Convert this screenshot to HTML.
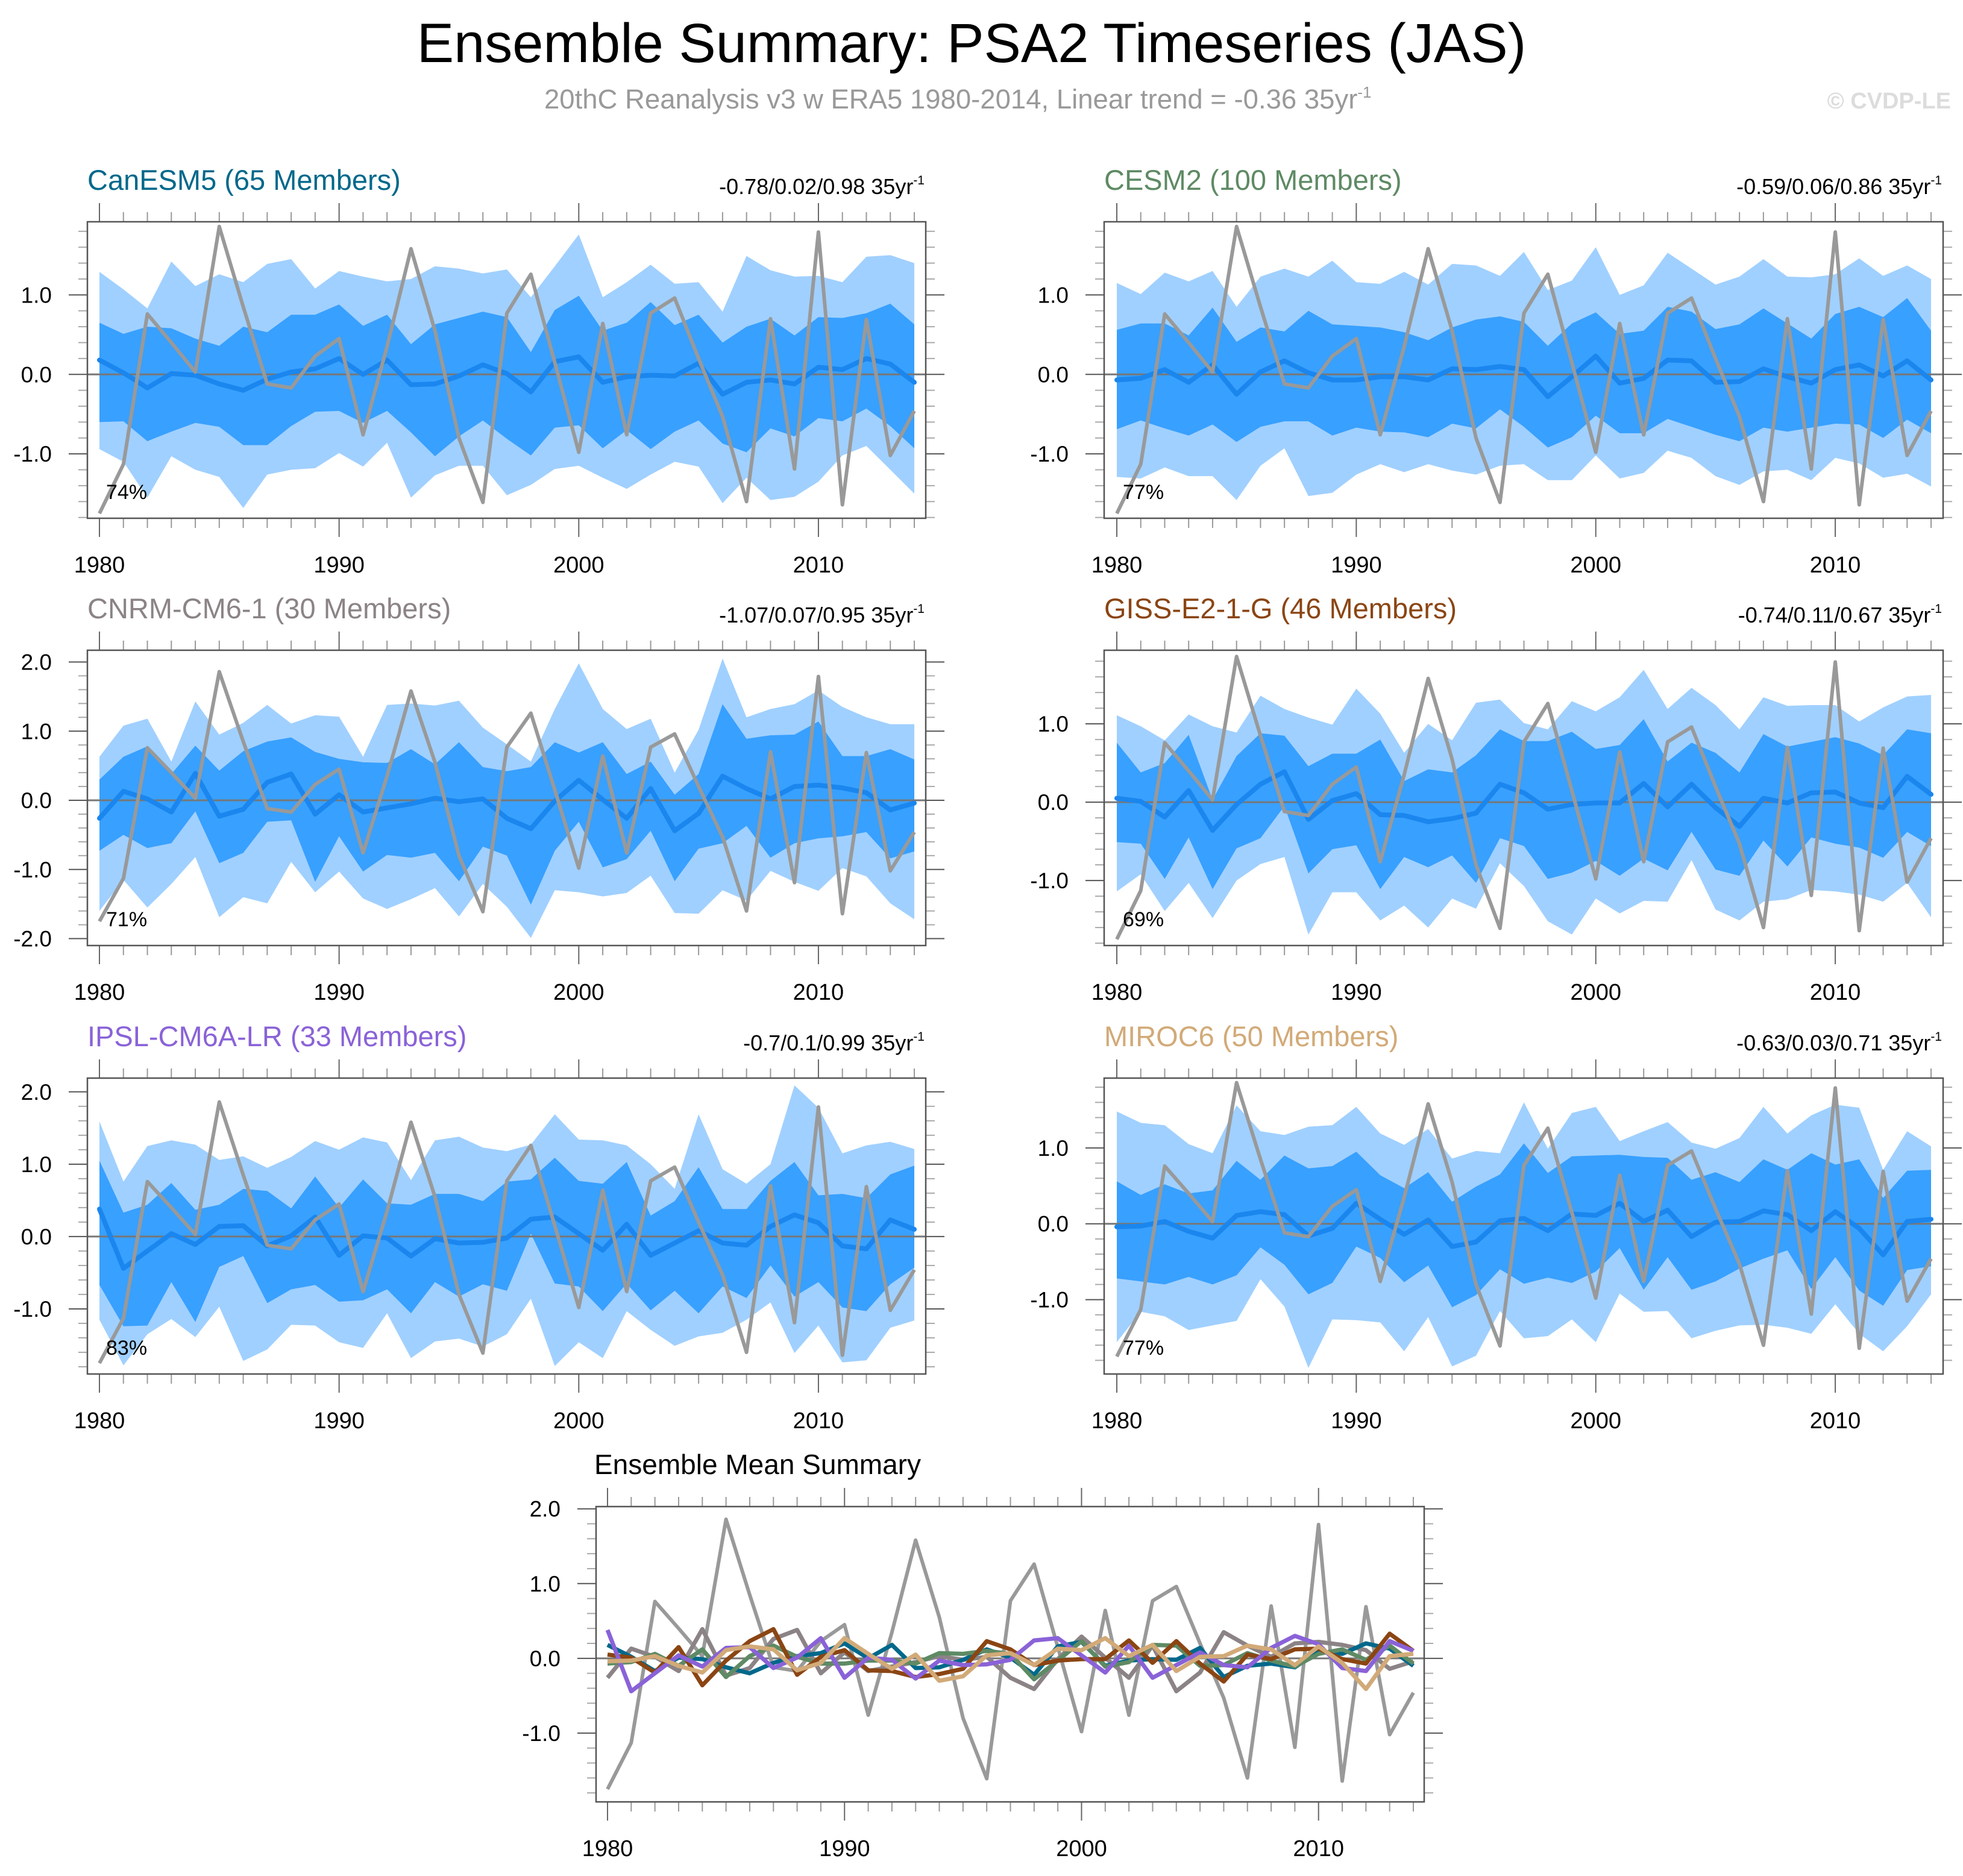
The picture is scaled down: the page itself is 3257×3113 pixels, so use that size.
<!DOCTYPE html>
<html><head><meta charset="utf-8">
<style>
html,body{margin:0;padding:0;background:#fff;}
svg{display:block;font-family:"Liberation Sans",Arial,sans-serif;}
</style></head>
<body>
<svg id="fig" xmlns="http://www.w3.org/2000/svg" width="3257" height="3113" viewBox="0 0 3257 3113">
<rect x="0" y="0" width="3257" height="3113" fill="#fff"/>
<text x="1612" y="103" font-size="92" text-anchor="middle" fill="#000">Ensemble Summary: PSA2 Timeseries (JAS)</text>
<text x="903" y="180" font-size="45.5" fill="#999">20thC Reanalysis v3 w ERA5 1980-2014, Linear trend = -0.36 35yr<tspan dy="-18" font-size="26">-1</tspan></text>
<text x="3237" y="180" font-size="38" font-weight="bold" text-anchor="end" fill="#dcdcdc">© CVDP-LE</text>
<g id="panels"></g>
</svg>
<script>
const years = [1980,1981,1982,1983,1984,1985,1986,1987,1988,1989,1990,1991,1992,1993,1994,1995,1996,1997,1998,1999,2000,2001,2002,2003,2004,2005,2006,2007,2008,2009,2010,2011,2012,2013,2014];
const obs = [-1.75,-1.13,0.76,0.4,0.03,1.86,0.85,-0.12,-0.17,0.23,0.45,-0.76,0.35,1.58,0.55,-0.8,-1.61,0.77,1.26,0.15,-0.98,0.64,-0.76,0.77,0.96,0.2,-0.53,-1.6,0.7,-1.19,1.79,-1.64,0.69,-1.02,-0.46];

const canMean = [0.18,0.02,-0.17,0.01,-0.01,-0.12,-0.2,-0.06,0.03,0.07,0.2,0,0.18,-0.13,-0.12,-0.02,0.12,0.01,-0.22,0.16,0.22,-0.1,-0.03,-0.01,-0.02,0.14,-0.25,-0.1,-0.07,-0.12,0.09,0.06,0.2,0.13,-0.1];
const canInHi = [0.65,0.51,0.6,0.58,0.45,0.36,0.6,0.53,0.75,0.75,0.88,0.61,0.75,0.38,0.63,0.71,0.79,0.72,0.28,0.81,0.99,0.55,0.65,0.91,0.62,0.75,0.4,0.6,0.7,0.49,0.72,0.71,0.77,0.89,0.63];
const canInLo = [-0.6,-0.59,-0.84,-0.72,-0.61,-0.66,-0.89,-0.89,-0.65,-0.47,-0.46,-0.61,-0.46,-0.73,-1.03,-0.78,-0.58,-0.81,-1.02,-0.67,-0.64,-0.93,-0.7,-0.94,-0.72,-0.58,-0.87,-0.98,-0.68,-0.78,-0.55,-0.59,-0.43,-0.65,-0.93];
const canOutHi = [1.29,1.07,0.83,1.42,1.11,1.26,1.16,1.39,1.45,1.08,1.3,1.23,1.17,1.2,1.36,1.33,1.27,1.32,0.97,1.36,1.76,0.97,1.16,1.38,1.14,1.16,0.79,1.49,1.31,1.23,1.24,1.16,1.48,1.5,1.4];
const canOutLo = [-0.94,-1.1,-1.55,-1.03,-1.2,-1.29,-1.68,-1.26,-1.2,-1.18,-0.99,-1.16,-0.86,-1.55,-1.27,-1.15,-1.15,-1.52,-1.39,-1.19,-1.15,-1.3,-1.44,-1.26,-1.1,-1.16,-1.62,-1.3,-1.58,-1.54,-1.35,-1.02,-0.9,-1.2,-1.5];

const cesMean = [-0.07,-0.05,0.06,-0.10,0.12,-0.25,0.03,0.17,0.02,-0.07,-0.07,-0.03,-0.03,-0.07,0.07,0.06,0.10,0.06,-0.28,-0.03,0.23,-0.11,-0.05,0.18,0.17,-0.1,-0.09,0.07,-0.03,-0.11,0.06,0.12,-0.02,0.17,-0.07];
const cesInHi = [0.56,0.64,0.64,0.49,0.84,0.41,0.59,0.54,0.80,0.63,0.61,0.59,0.53,0.43,0.59,0.69,0.73,0.66,0.36,0.64,0.78,0.51,0.55,0.85,0.79,0.57,0.63,0.83,0.64,0.45,0.76,0.85,0.72,0.96,0.55];
const cesInLo = [-0.69,-0.58,-0.68,-0.77,-0.63,-0.85,-0.66,-0.59,-0.59,-0.77,-0.67,-0.72,-0.73,-0.79,-0.62,-0.68,-0.44,-0.66,-0.92,-0.79,-0.52,-0.74,-0.74,-0.56,-0.66,-0.76,-0.84,-0.67,-0.72,-0.67,-0.62,-0.63,-0.80,-0.57,-0.74];
const cesOutHi = [1.15,1.01,1.28,1.17,1.30,0.85,1.23,1.33,1.23,1.43,1.16,1.14,1.29,1.13,1.39,1.37,1.24,1.54,1.06,1.18,1.60,1.00,1.12,1.53,1.33,1.13,1.23,1.45,1.23,1.22,1.26,1.46,1.24,1.37,1.20];
const cesOutLo = [-1.29,-1.31,-1.17,-1.28,-1.28,-1.58,-1.15,-0.93,-1.53,-1.49,-1.26,-1.13,-1.23,-1.13,-1.21,-1.26,-1.15,-1.13,-1.33,-1.33,-1.02,-1.31,-1.24,-0.96,-1.05,-1.28,-1.39,-1.22,-1.20,-1.33,-1.05,-1.12,-1.30,-1.25,-1.41];

const cnrmMean = [-0.26,0.13,0.02,-0.17,0.39,-0.23,-0.13,0.26,0.38,-0.20,0.08,-0.17,-0.11,-0.05,0.03,-0.02,0.02,-0.26,-0.41,-0.01,0.29,0.01,-0.26,0.17,-0.44,-0.19,0.35,0.17,0.02,0.20,0.22,0.18,0.11,-0.14,-0.04];
const cnrmInHi = [0.30,0.63,0.78,0.38,0.79,0.43,0.71,0.85,0.91,0.70,0.60,0.55,0.54,0.74,0.52,0.84,0.48,0.42,0.48,0.84,0.69,0.84,0.38,0.56,0.08,0.38,1.39,0.89,0.94,0.95,1.14,0.64,0.64,0.74,0.59];
const cnrmInLo = [-0.73,-0.50,-0.69,-0.62,-0.16,-0.91,-0.76,-0.31,-0.29,-1.18,-0.52,-1.03,-0.79,-0.83,-0.76,-1.17,-0.67,-0.80,-1.51,-0.73,-0.31,-0.97,-0.85,-0.44,-1.17,-0.70,-0.62,-0.37,-0.83,-0.62,-0.55,-0.52,-0.46,-0.84,-0.74];
const cnrmOutHi = [0.63,1.08,1.18,0.56,1.43,0.95,1.12,1.38,1.11,1.23,1.21,0.63,1.38,1.40,1.37,1.44,1.05,0.81,0.56,1.32,1.98,1.32,1.03,1.18,0.40,1.02,2.05,1.20,1.32,1.39,1.59,1.35,1.20,1.10,1.10];
const cnrmOutLo = [-1.60,-1.15,-1.55,-1.21,-0.82,-1.69,-1.40,-1.49,-0.89,-1.33,-1.03,-1.42,-1.57,-1.43,-1.27,-1.68,-1.21,-1.54,-1.99,-1.30,-1.33,-1.39,-1.34,-1.09,-1.63,-1.64,-1.30,-1.45,-1.02,-1.18,-1.31,-0.98,-1.10,-1.49,-1.72];

const gissMean = [0.05,0.01,-0.19,0.15,-0.36,-0.03,0.23,0.39,-0.22,0.02,0.11,-0.16,-0.17,-0.25,-0.21,-0.14,0.23,0.12,-0.09,-0.03,-0.01,-0.01,0.24,-0.06,0.23,-0.07,-0.31,0.05,-0.01,0.12,0.13,-0.01,-0.07,0.33,0.10];
const gissInHi = [0.76,0.38,0.50,0.86,0.03,0.59,0.88,0.85,0.46,0.62,0.62,0.80,0.27,0.42,0.38,0.60,0.93,0.78,0.78,0.90,0.68,0.73,1.06,0.52,0.76,0.63,0.38,0.87,0.71,0.77,0.83,0.75,0.60,0.93,0.88];
const gissInLo = [-0.51,-0.53,-0.98,-0.45,-1.11,-0.59,-0.46,-0.05,-0.91,-0.60,-0.55,-1.11,-0.70,-0.83,-0.68,-1.03,-0.46,-0.56,-0.98,-0.90,-0.75,-0.94,-0.72,-0.87,-0.38,-0.86,-0.94,-0.49,-0.82,-0.45,-0.53,-0.58,-0.71,-0.38,-0.56];
const gissOutHi = [1.11,0.97,0.79,1.12,0.97,0.89,1.36,1.19,1.08,0.99,1.45,1.13,0.63,1.00,0.79,1.27,1.31,1.01,0.93,1.29,1.16,1.34,1.69,1.19,1.46,1.24,0.93,1.34,1.23,1.24,1.24,1.03,1.21,1.35,1.37];
const gissOutLo = [-1.14,-0.92,-1.39,-1.03,-1.48,-1.00,-0.79,-0.70,-1.69,-1.15,-1.15,-1.51,-1.32,-1.60,-1.23,-1.36,-0.78,-1.07,-1.52,-1.69,-1.23,-1.42,-1.26,-1.27,-0.74,-1.37,-1.51,-1.27,-1.24,-1.12,-1.14,-1.18,-1.27,-1.03,-1.47];

const ipslMean = [0.38,-0.44,-0.20,0.04,-0.11,0.14,0.15,-0.13,0.01,0.27,-0.26,0.01,-0.02,-0.27,-0.03,-0.09,-0.08,-0.02,0.24,0.27,0.04,-0.19,0.17,-0.26,-0.09,0.08,-0.09,-0.12,0.14,0.30,0.19,-0.13,-0.17,0.23,0.10];
const ipslInHi = [1.05,0.33,0.44,0.74,0.37,0.44,0.66,0.63,0.39,0.83,0.40,0.79,0.46,0.44,0.59,0.59,0.49,0.76,0.79,1.09,0.77,0.73,1.03,0.29,0.49,0.96,0.38,0.38,0.77,1.03,0.57,0.59,0.53,0.86,0.98];
const ipslInLo = [-0.67,-1.24,-1.23,-0.63,-1.18,-0.42,-0.27,-0.92,-0.73,-0.67,-0.90,-0.88,-0.73,-1.06,-0.63,-0.83,-0.66,-0.75,0.04,-0.65,-0.69,-1.03,-0.65,-1.02,-0.75,-1.06,-0.69,-0.85,-0.40,-0.83,-0.63,-0.98,-1.03,-0.66,-0.43];
const ipslOutHi = [1.59,0.76,1.25,1.33,1.27,1.06,1.11,0.95,1.10,1.32,1.20,1.37,1.30,0.78,1.33,1.38,1.23,1.18,1.27,1.69,1.34,1.33,1.26,1.00,0.66,1.69,0.93,0.73,1.00,2.09,1.78,1.15,1.26,1.31,1.21];
const ipslOutLo = [-1.15,-1.78,-1.35,-1.14,-1.39,-0.97,-1.72,-1.56,-1.22,-1.23,-1.46,-1.54,-1.06,-1.68,-1.45,-1.41,-1.52,-1.35,-0.86,-1.79,-1.46,-1.68,-1.03,-1.29,-1.51,-1.38,-1.33,-1.15,-0.91,-1.61,-1.23,-1.74,-1.71,-1.26,-1.16];

const mirocMean = [-0.04,-0.03,0.03,-0.10,-0.19,0.11,0.16,0.12,-0.16,-0.06,0.27,0.06,-0.14,0.05,-0.30,-0.24,0.04,0.07,-0.09,0.13,0.11,0.27,0.03,0.18,-0.17,0.02,0.03,0.17,0.12,-0.09,0.16,-0.06,-0.41,0.03,0.06];
const mirocInHi = [0.56,0.38,0.52,0.40,0.44,0.83,0.58,0.90,0.73,0.76,0.95,0.64,0.47,0.68,0.29,0.49,0.65,1.06,0.67,0.89,0.90,0.91,0.88,0.87,0.58,0.68,0.55,0.85,0.71,0.93,0.78,0.85,0.34,0.70,0.71];
const mirocInLo = [-0.72,-0.76,-0.80,-0.70,-0.80,-0.68,-0.31,-0.54,-0.93,-0.78,-0.30,-0.45,-0.77,-0.55,-1.10,-0.94,-0.60,-0.79,-0.71,-0.78,-0.63,-0.32,-0.87,-0.44,-0.87,-0.76,-0.59,-0.46,-0.35,-0.86,-0.44,-0.88,-1.08,-0.61,-0.56];
const mirocOutHi = [1.48,1.33,1.30,1.05,0.93,1.56,1.22,1.17,1.28,1.30,1.54,1.19,1.04,1.25,0.86,0.96,0.93,1.60,0.99,1.46,1.54,1.09,1.22,1.34,1.07,0.99,1.13,1.54,1.19,1.43,1.57,1.53,0.71,1.22,1.02];
const mirocOutLo = [-1.56,-1.16,-1.22,-1.40,-1.34,-1.28,-0.73,-1.09,-1.90,-1.26,-1.27,-1.30,-1.68,-1.23,-1.88,-1.74,-1.15,-1.51,-1.48,-1.26,-1.56,-0.92,-1.16,-1.15,-1.51,-1.41,-1.34,-1.33,-1.37,-1.45,-1.06,-1.45,-1.68,-1.35,-0.93];

const modelNames = ["CanESM5 (65 Members)","CESM2 (100 Members)","CNRM-CM6-1 (30 Members)","GISS-E2-1-G (46 Members)","IPSL-CM6A-LR (33 Members)","MIROC6 (50 Members)"];
const trendLabels = ["-0.78/0.02/0.98 35yr","-0.59/0.06/0.86 35yr","-1.07/0.07/0.95 35yr","-0.74/0.11/0.67 35yr","-0.7/0.1/0.99 35yr","-0.63/0.03/0.71 35yr"];
const pctLabels = ["74%","77%","71%","69%","83%","77%"];
const yTickLabels = ["-2.0","-1.0","0.0","1.0","2.0"];
const yTickValues = [-2,-1,0,1,2];
const xTickLabels = ["1980","1990","2000","2010"];
const xTickValues = [1980,1990,2000,2010];

const NS = "http://www.w3.org/2000/svg";
const root = document.getElementById("panels");
function mk(tag, attrs, parent){ const e=document.createElementNS(NS,tag); for(const k in attrs) e.setAttribute(k,attrs[k]); (parent||root).appendChild(e); return e; }

const panels = [
 {mean:canMean,inHi:canInHi,inLo:canInLo,outHi:canOutHi,outLo:canOutLo,color:"#00688b",box:[145,368,1536,860],yr:[-1.81,1.92],x0:165,x1:1517,key:"canesm5"},
 {mean:cesMean,inHi:cesInHi,inLo:cesInLo,outHi:cesOutHi,outLo:cesOutLo,color:"#5e8a64",box:[1832,368,3224,860],yr:[-1.81,1.92],x0:1853,x1:3204,key:"cesm2"},
 {mean:cnrmMean,inHi:cnrmInHi,inLo:cnrmInLo,outHi:cnrmOutHi,outLo:cnrmOutLo,color:"#8b8386",box:[145,1079,1536,1569],yr:[-2.10,2.17],x0:165,x1:1517,key:"cnrm-cm6-1"},
 {mean:gissMean,inHi:gissInHi,inLo:gissInLo,outHi:gissOutHi,outLo:gissOutLo,color:"#8b4513",box:[1832,1079,3224,1569],yr:[-1.83,1.94],x0:1853,x1:3204,key:"giss-e2-1-g"},
 {mean:ipslMean,inHi:ipslInHi,inLo:ipslInLo,outHi:ipslOutHi,outLo:ipslOutLo,color:"#8a62d8",box:[145,1789,1536,2280],yr:[-1.90,2.19],x0:165,x1:1517,key:"ipsl-cm6a-lr"},
 {mean:mirocMean,inHi:mirocInHi,inLo:mirocInLo,outHi:mirocOutHi,outLo:mirocOutLo,color:"#d2aa78",box:[1832,1789,3224,2280],yr:[-1.98,1.92],x0:1853,x1:3204,key:"miroc6"}
];

function axes(g, box, yr, x0, x1){
  const [L,T,R,B]=box;
  const xs=v=>x0+(v-years[0])*(x1-x0)/(years[years.length-1]-years[0]);
  const ys=v=>B-(v-yr[0])*(B-T)/(yr[1]-yr[0]);
  return {xs,ys,L,T,R,B};
}
function drawFrame(g, ax, yr, name){
  const {xs,ys,L,T,R,B}=ax;
  years.forEach(yv=>{
    const maj = yv%10===0; const len = maj?31:16; const x=xs(yv);
    mk("line",{x1:x,y1:T,x2:x,y2:T-len,stroke:maj?"#666":"#999","stroke-width":2},g);
    mk("line",{x1:x,y1:B,x2:x,y2:B+len,stroke:maj?"#666":"#999","stroke-width":2},g);
  });
  const lo=Math.ceil(yr[0]*5-1e-6), hi=Math.floor(yr[1]*5+1e-6);
  for(let k=lo;k<=hi;k++){
    const v=k/5, maj=(k%5===0), len=maj?31:15, y=ys(v);
    mk("line",{x1:L,y1:y,x2:L-len,y2:y,stroke:maj?"#555":"#aaa","stroke-width":2},g);
    mk("line",{x1:R,y1:y,x2:R+len,y2:y,stroke:maj?"#555":"#aaa","stroke-width":2},g);
  }
  yTickValues.forEach((v,i)=>{
    if(v<yr[0]||v>yr[1]) return;
    const t=mk("text",{x:L-59,y:ys(v)+13,"font-size":37,"text-anchor":"end",fill:"#000"},g);
    
    
    t.textContent=yTickLabels[i];
  });
  xTickValues.forEach((v,i)=>{
    const t=mk("text",{x:xs(v),y:B+90,"font-size":38,"text-anchor":"middle",fill:"#000"},g);
    
    
    t.textContent=xTickLabels[i];
  });
  const fr=mk("rect",{x:L,y:T,width:R-L,height:B-T,fill:"none",stroke:"#555","stroke-width":2.5},g);
  
  
}
function linePts(ax, arr){ return arr.map((v,i)=>ax.xs(years[i]).toFixed(1)+","+ax.ys(v).toFixed(1)).join(" "); }
function bandPts(ax, hi, lo){
  const a=hi.map((v,i)=>ax.xs(years[i]).toFixed(1)+","+ax.ys(v).toFixed(1));
  const b=lo.map((v,i)=>ax.xs(years[i]).toFixed(1)+","+ax.ys(v).toFixed(1)).reverse();
  return a.concat(b).join(" ");
}

panels.forEach((p,idx)=>{
  const g=mk("g",{});
  
  
  const ax=axes(g,p.box,p.yr,p.x0,p.x1);
  const o=mk("polygon",{points:bandPts(ax,p.outHi,p.outLo),fill:"#a0d0ff"},g);
  
  
  const inn=mk("polygon",{points:bandPts(ax,p.inHi,p.inLo),fill:"#38a0ff"},g);
  
  
  const z=mk("line",{x1:ax.L,y1:ax.ys(0),x2:ax.R,y2:ax.ys(0),stroke:"#777","stroke-width":3},g);
  
  
  const m=mk("polyline",{points:linePts(ax,p.mean),fill:"none",stroke:"#1a86ee","stroke-width":8,"stroke-linejoin":"round","stroke-linecap":"round"},g);
  
  
  const ob=mk("polyline",{points:linePts(ax,obs),fill:"none",stroke:"#999","stroke-width":6,"stroke-linejoin":"round"},g);
  
  
  drawFrame(g,ax,p.yr,p.key);
  const pc=mk("text",{x:ax.L+31,y:ax.B-32,"font-size":34,fill:"#000"},g);
  
  
  pc.textContent=pctLabels[idx];
  const tt=mk("text",{x:ax.L,y:ax.T-53,"font-size":47,fill:p.color},g);
  
  
  tt.textContent=modelNames[idx];
  const tr=mk("text",{x:ax.R-2,y:ax.T-46,"font-size":36,"text-anchor":"end",fill:"#000"},g);
  
  
  tr.appendChild(document.createTextNode(trendLabels[idx]));
  const sup=mk("tspan",{dy:-16,"font-size":21},tr);
  sup.textContent="-1";
});

(function(){
  const g=mk("g",{});
  
  
  const yr=[-1.92,2.03];
  const ax=axes(g,[989,2500,2363,2990],yr,1008,2345);
  const z=mk("line",{x1:ax.L,y1:ax.ys(0),x2:ax.R,y2:ax.ys(0),stroke:"#777","stroke-width":3},g);
  
  
  const ob=mk("polyline",{points:linePts(ax,obs),fill:"none",stroke:"#999","stroke-width":6,"stroke-linejoin":"round"},g);
  
  
  [2,0,1,3,4,5].forEach(i=>{
    const p=panels[i];
    const l=mk("polyline",{points:linePts(ax,p.mean),fill:"none",stroke:p.color,"stroke-width":7,"stroke-linejoin":"round"},g);
    
    
  });
  drawFrame(g,ax,yr,"summary");
  const t=mk("text",{x:986,y:2446,"font-size":46,fill:"#000"},g);
  
  
  t.textContent="Ensemble Mean Summary";
})();
</script>
</body></html>
